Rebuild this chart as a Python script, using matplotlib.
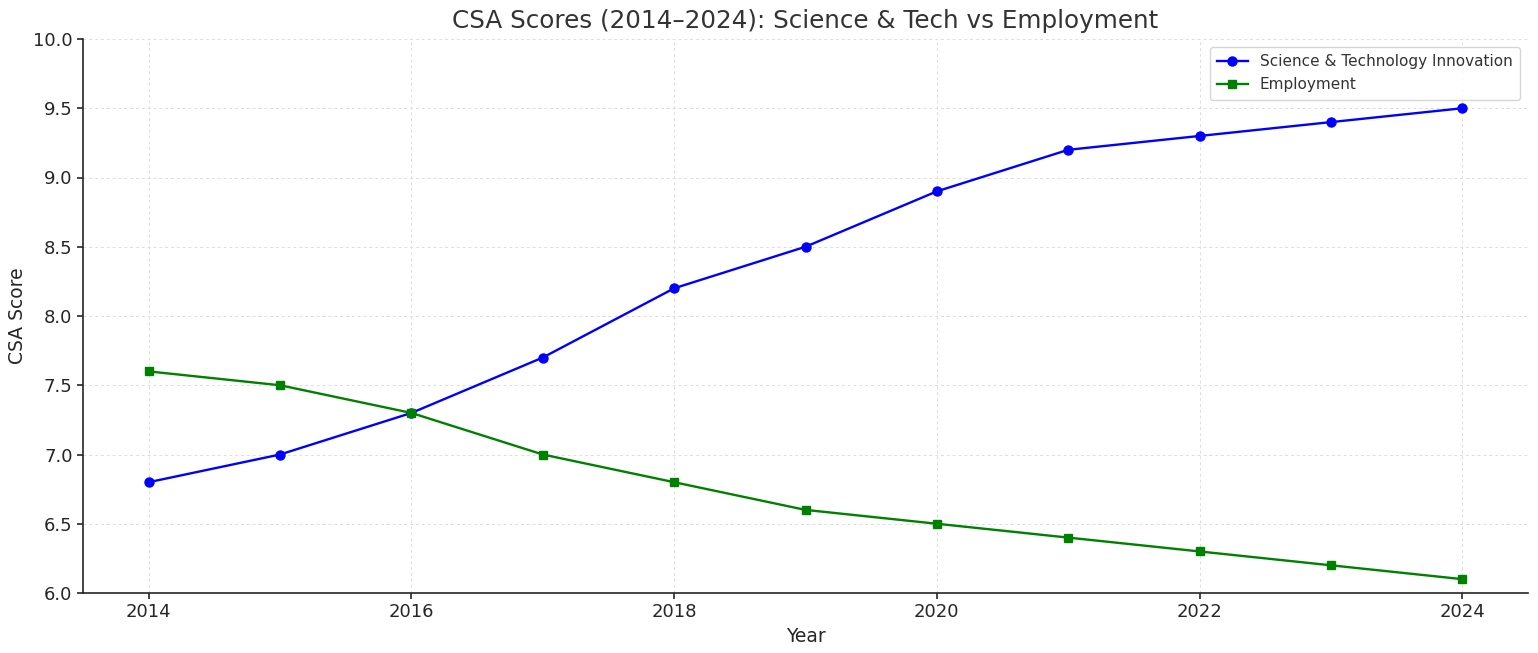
import matplotlib
matplotlib.use("Agg")
import matplotlib.pyplot as plt

years = [2014, 2015, 2016, 2017, 2018, 2019, 2020, 2021, 2022, 2023, 2024]
sci_tech = [6.8, 7.0, 7.3, 7.7, 8.2, 8.5, 8.9, 9.2, 9.3, 9.4, 9.5]
employment = [7.6, 7.5, 7.3, 7.0, 6.8, 6.6, 6.5, 6.4, 6.3, 6.2, 6.1]
title = "CSA Scores (2014\u20132024): Science & Tech vs Employment"

plt.rcParams['font.family'] = ['DejaVu Sans']
text_color = '#262626'

fig = plt.figure(figsize=(15.38, 6.53), dpi=100)
ax = fig.add_axes([83/1538, 1 - 593/653, (1528-83)/1538, (593-39)/653])

ax.plot(years, sci_tech, color='blue', marker='o', markersize=6.5, linewidth=1.7,
        label='Science & Technology Innovation')
ax.plot(years, employment, color='green', marker='s', markersize=5.8, linewidth=1.7,
        label='Employment')

ax.set_ylim(6.0, 10.0)
ax.set_xlim(2013.5, 2024.5)
ax.set_yticks([6.0, 6.5, 7.0, 7.5, 8.0, 8.5, 9.0, 9.5, 10.0])
ax.set_xticks([2014, 2016, 2018, 2020, 2022, 2024])
ax.grid(True, linestyle=(0, (3, 3)), color='#dddddd', linewidth=0.7)
ax.set_axisbelow(True)

for s in ['top', 'right']:
    ax.spines[s].set_visible(False)
for s in ['left', 'bottom']:
    ax.spines[s].set_color(text_color)
    ax.spines[s].set_linewidth(1.2)

ax.tick_params(axis='both', labelsize=13, colors=text_color, length=4, width=1.2)
ax.set_xlabel('Year', fontsize=13.5, color=text_color)
ax.set_ylabel('CSA Score', fontsize=13.5, color=text_color)
ax.set_title(title, fontsize=17.7, color='#333333', pad=8)

leg = ax.legend(loc='upper right', fontsize=11, frameon=True, borderpad=0.5)
leg.get_frame().set_edgecolor('#cccccc')
for t in leg.get_texts():
    t.set_color('#333333')

fig.savefig('out.png', dpi=100)
